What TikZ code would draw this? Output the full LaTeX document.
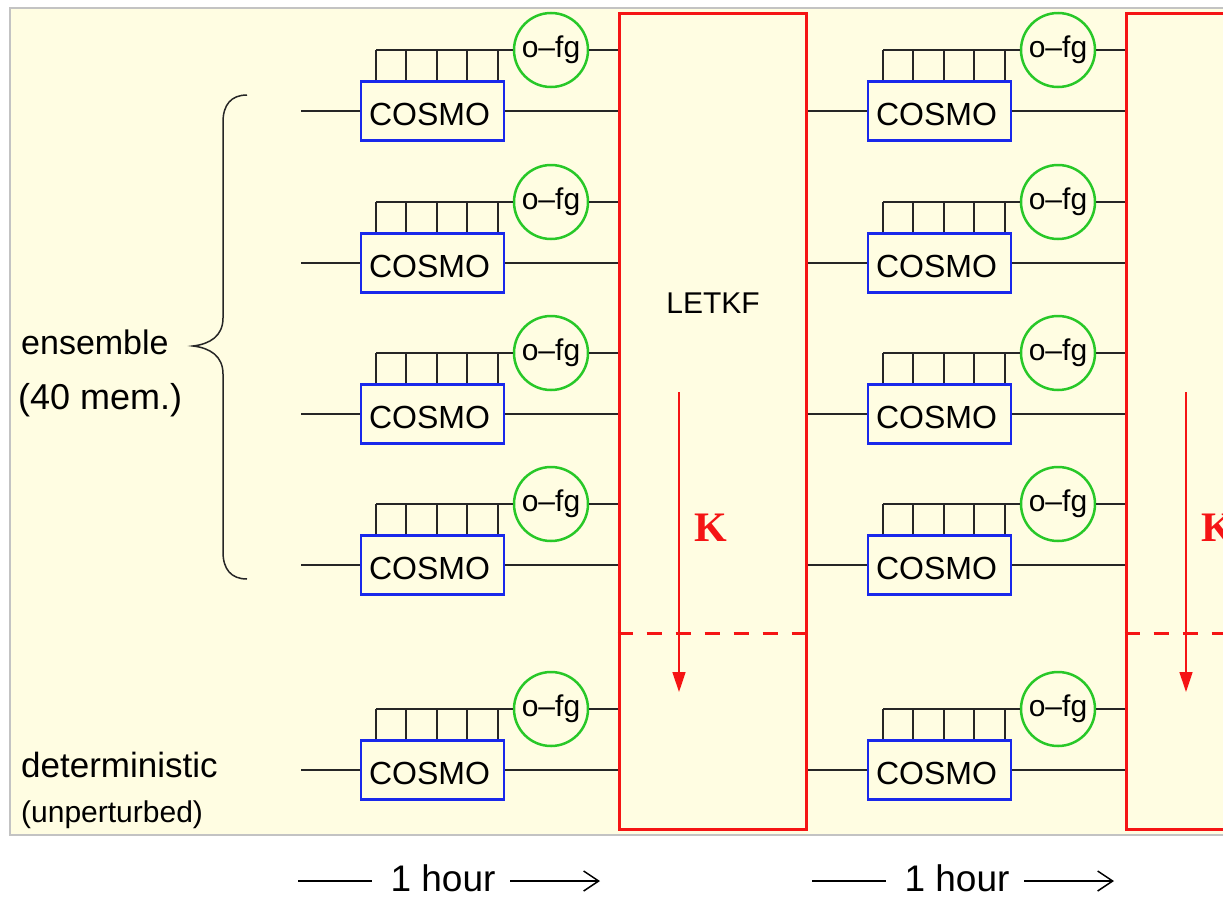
\documentclass[tikz,border=0pt]{standalone}
\usepackage{fontspec}
\setmainfont{Liberation Sans}
\newfontfamily\kfont{Liberation Serif}
\usetikzlibrary{arrows.meta}
\definecolor{paper}{RGB}{255,253,226}
\definecolor{frame}{RGB}{195,195,195}
\definecolor{cosmoblue}{RGB}{25,40,235}
\definecolor{fggreen}{RGB}{40,200,40}
\definecolor{letkfred}{RGB}{245,20,20}
\tikzset{
  cosmo/.style={draw=cosmoblue, line width=2.5pt, minimum width=143pt, minimum height=59pt,
    text width=127pt, inner xsep=8pt, align=left, text height=29pt, text depth=0pt,
    font=\fontsize{32}{38}\selectfont},
  ofg/.style={circle, draw=fggreen, line width=2.5pt, minimum size=74pt, inner sep=0pt,
    font=\fontsize{30}{36}\selectfont},
  letkf/.style={draw=letkfred, line width=3pt, minimum width=187pt, minimum height=816pt, inner sep=0pt},
  wire/.style={black!85, line width=1.5pt},
  lbl/.style={inner sep=0pt, anchor=base west},
}
\begin{document}
\begin{tikzpicture}[x=1pt, y=-1pt, >={Triangle[length=20pt,width=13pt]}]
  \useasboundingbox (0,0) rectangle (1223,897);
  \clip (0,0) rectangle (1223,897);
  \draw[frame, line width=2pt, fill=paper] (10,8) rectangle (1260,835);

  % LETKF boxes
  \foreach \c/\n in {0/1,507/2}{
    \node[letkf] (letkf\n) at (712.5+\c,421) {};
    \draw[letkfred, line width=3pt, dash pattern=on 15pt off 14pt]
      (letkf\n.west |- 0,633) -- (letkf\n.east |- 0,633);
    \coordinate (ktop\n) at (679+\c,392);
    \coordinate (kbot\n) at (679+\c,692);
    \draw[->, letkfred, line width=1.5pt] (ktop\n) -- (kbot\n);
    \node[text=letkfred, font=\fontsize{42}{48}\selectfont\kfont\bfseries] (k\n) at (711+\c,528) {K};
  }
  \node[font=\fontsize{30}{36}\selectfont] (letkftxt) at (713,303) {LETKF};

  % members
  \foreach \c/\n in {0/1,507/2}{
    \foreach \y/\r in {111/1,263/2,414/3,565/4,770/5}{
      \node[cosmo] (cosmo\n\r) at (432.5+\c,\y) {COSMO};
      \node[ofg] (fg\n\r) at (551+\c,\y-61) {o--fg};
      \coordinate (in\n\r) at (301+\c,\y);
      \coordinate (comb\n\r) at (376+\c,\y-61);
      \draw[wire] (in\n\r) -- (cosmo\n\r);
      \draw[wire] (cosmo\n\r) -- (cosmo\n\r -| letkf\n.west);
      \draw[wire] (fg\n\r) -- (fg\n\r -| letkf\n.west);
      \draw[wire] (comb\n\r) -- (fg\n\r);
      \foreach \dx in {16,46,77,107,138}{
        \coordinate (tick) at ([xshift=\dx pt]cosmo\n\r.north west);
        \draw[wire] (tick) -- (tick |- comb\n\r);
      }
    }
  }

  % left labels
  \draw[wire] (247,95) .. controls (231,95) and (223,105) .. (223,122) -- (223,318)
    .. controls (223,336) and (210,344) .. (193,346)
    .. controls (210,348) and (223,356) .. (223,374) -- (223,552)
    .. controls (223,569) and (231,579) .. (247,579);
  \node[lbl, font=\fontsize{34}{40}\selectfont] (ens) at (21,354) {ensemble};
  \node[lbl, font=\fontsize{36}{42}\selectfont] (mem) at (18,409) {(40 mem.)};
  \node[lbl, font=\fontsize{35}{41}\selectfont] (det) at (21,777) {deterministic};
  \node[lbl, font=\fontsize{30}{36}\selectfont] (unp) at (21,822) {(unperturbed)};

  % time axis
  \foreach \c/\n in {0/1,514/2}{
    \node[inner sep=0pt, anchor=base, font=\fontsize{37}{43}\selectfont] (hour\n) at (443+\c,891) {1 hour};
    \coordinate (ha\n) at (298+\c,881);
    \coordinate (hb\n) at (372+\c,881);
    \coordinate (hc\n) at (510+\c,881);
    \coordinate (hd\n) at (600+\c,881);
    \draw[wire, black] (ha\n) -- (hb\n);
    \draw[wire, black, -{Straight Barb[length=15pt,width=20pt]}] (hc\n) -- (hd\n);
  }
\end{tikzpicture}
\end{document}
